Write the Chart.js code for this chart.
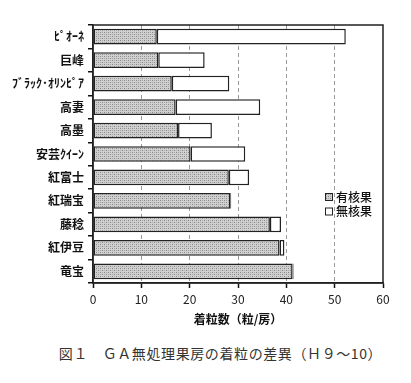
<!DOCTYPE html>
<html><head><meta charset="utf-8">
<script src="https://cdn.jsdelivr.net/npm/chart.js@4"></script>
<style>
html,body{margin:0;padding:0;background:#fff;}
#wrap{position:relative;width:411px;height:383px;}
#c{position:absolute;left:0;top:0;}
#cap{position:absolute;left:0;width:411px;top:343px;text-align:center;font-family:"Noto Sans CJK JP";font-size:14px;color:#333;letter-spacing:0.6px;padding-left:30px;box-sizing:border-box;}
</style></head>
<body>
<div id="wrap"><canvas id="c" width="411" height="335"></canvas><div id="cap">図１　ＧＡ無処理果房の着粒の差異（Ｈ９～10）</div></div>
<script>
const categories = ["ﾋﾟｵｰﾈ","巨峰","ﾌﾞﾗｯｸ･ｵﾘﾝﾋﾟｱ","高妻","高墨","安芸ｸｲｰﾝ","紅富士","紅瑞宝","藤稔","紅伊豆","竜宝"];
const seeded   = [13.2, 13.5, 16.3, 17.1, 17.6, 20.2, 28.1, 28.4, 36.6, 38.6, 41.3];
const seedless = [39.1,  9.6, 11.9, 17.5,  7.0, 11.3,  4.2,  0.2,  2.3,  1.0,  0.2];
const seriesNames = ["有核果","無核果"];
const xTicks = [0,10,20,30,40,50,60];
const xTitle = "着粒数（粒/房）";

function makePattern(){
  const p=document.createElement('canvas'); p.width=4; p.height=4;
  const g=p.getContext('2d');
  g.fillStyle='#d0d0d0'; g.fillRect(0,0,4,4);
  g.fillStyle='#868686';
  g.fillRect(0,0,1,1); g.fillRect(2,2,1,1);
  g.fillStyle='#aaaaaa';
  g.fillRect(2,0,1,1); g.fillRect(0,2,1,1);
  return document.getElementById('c').getContext('2d').createPattern(p,'repeat');
}
const pat = makePattern();

const frame = {
  id:'frame',
  afterDraw(chart){
    const {ctx, chartArea:a} = chart;
    ctx.save();
    ctx.strokeStyle='#222'; ctx.lineWidth=1.5;
    ctx.strokeRect(a.left, a.top, a.right-a.left, a.bottom-a.top);
    const ds = chart.data.datasets;
    const x0 = a.left + 232, y0 = a.top + 172;
    ctx.font = '500 12px "Noto Sans CJK JP"';
    ctx.textBaseline='middle';
    ds.forEach((d,i)=>{
      const y = y0 + i*14.5;
      ctx.fillStyle = d.backgroundColor;
      ctx.fillRect(x0, y-3.5, 7, 7);
      ctx.lineWidth=1; ctx.strokeStyle='#222';
      ctx.strokeRect(x0+0.5, y-3.5, 7, 7);
      ctx.fillStyle='#111';
      ctx.fillText(d.label, x0+11, y);
    });
    ctx.restore();
  }
};

new Chart(document.getElementById('c'), {
  type:'bar',
  data:{
    labels: categories,
    datasets:[
      {label:seriesNames[0], data:seeded, backgroundColor:pat, borderColor:'#222', borderWidth:1.5, borderSkipped:false},
      {label:seriesNames[1], data:seedless, backgroundColor:'#ffffff', borderColor:'#222', borderWidth:1.5, borderSkipped:false}
    ]
  },
  options:{
    indexAxis:'y',
    responsive:false,
    animation:false,
    devicePixelRatio:1,
    datasets:{bar:{categoryPercentage:1, barPercentage:0.67}},
    layout:{padding:{left:0,right:28,top:25,bottom:8}},
    plugins:{legend:{display:false}, tooltip:{enabled:false}},
    scales:{
      x:{
        stacked:true, min:0, max:60,
        afterBuildTicks(s){ s.ticks = xTicks.map(v=>({value:v})); },
        afterFit(s){ s.height = 335-8-283; },
        grid:{color:(c)=> (c.tick && (c.tick.value===0||c.tick.value===60))?'rgba(0,0,0,0)':'#9a9a9a', lineWidth:1, tickColor:'#111', tickLength:5, tickWidth:1.5},
        border:{display:true, color:'#222', width:1.5, dash:[4,3]},
        ticks:{color:'#222', font:{family:'"Noto Sans CJK JP"', size:12}, padding:4, autoSkip:false},
        title:{display:true, text:xTitle, color:'#111', font:{family:'"Noto Sans CJK JP"', size:12, weight:'bold'}, padding:{top:0,bottom:0}}
      },
      y:{
        stacked:true,
        afterFit(s){ s.width = 93; },
        grid:{offset:true, drawOnChartArea:false, color:'#111', tickLength:5, lineWidth:1.5},
        border:{display:true, color:'#222', width:1.5},
        ticks:{color:'#111', font:{family:'"Noto Sans CJK JP"', size:12, weight:'bold'}, padding:4, autoSkip:false}
      }
    }
  },
  plugins:[frame]
});
</script>
</body></html>
